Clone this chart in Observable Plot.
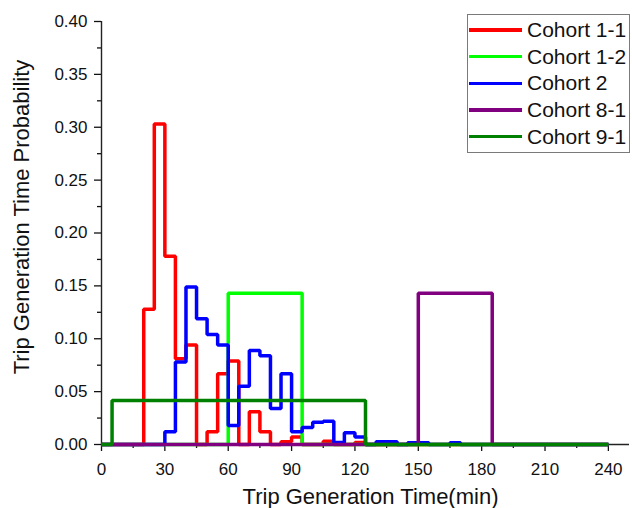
<!DOCTYPE html>
<html>
<head>
<meta charset="utf-8">
<script src="https://cdn.jsdelivr.net/npm/d3@7"></script>
<script src="https://cdn.jsdelivr.net/npm/@observablehq/plot@0.6"></script>
<style>
  body { margin: 0; background: #fff; }
  #wrap { position: relative; width: 632px; height: 508px; overflow: hidden;
          font-family: "Liberation Sans", Arial, sans-serif; background: #fff; }
  #wrap svg { position: absolute; left: 0; top: 0; }
  #legend { position: absolute; left: 467px; top: 14px; width: 163px; height: 139px;
            border: 1.5px solid #7a7a7a; box-sizing: border-box; background: #fff; }
  .item { position: absolute; height: 26px; display: flex; align-items: center; }
  .sw { width: 53px; height: 3.5px; margin-right: 5px; }
  .lab { font-size: 21px; color: #111; white-space: nowrap; }
</style>
</head>
<body>
<div id="wrap"></div>
<script>
// ---- Data (5-minute bins, value holds from t until the next t) ----
const seriesNames  = ["Cohort 1-1", "Cohort 1-2", "Cohort 2", "Cohort 8-1", "Cohort 9-1"];
const seriesColors = ["#ff0000", "#00ff00", "#0000ff", "#800080", "#008000"];

const cohort11T = [0, 20, 25, 30, 35, 40, 45, 50, 55, 60, 65, 70, 75, 80, 85, 90, 95, 105, 110, 120, 125, 240];
const cohort11V = [0, 0.128, 0.303, 0.178, 0.081, 0.094, 0, 0.012, 0.067, 0.079, 0, 0.031, 0.012, 0, 0.0025, 0.007, 0, 0.003, 0, 0.002, 0, 0];

const cohort12T = [0, 60, 95, 240];
const cohort12V = [0, 0.143, 0, 0];

const cohort2T = [0, 30, 35, 40, 45, 50, 55, 60, 65, 70, 75, 80, 85, 90, 95, 100, 105, 110, 115, 120, 125, 130, 140, 145, 155, 165, 170, 240];
const cohort2V = [0, 0.012, 0.078, 0.149, 0.119, 0.104, 0.094, 0.018, 0.055, 0.089, 0.084, 0.034, 0.067, 0.012, 0.016, 0.021, 0.022, 0.002, 0.011, 0.007, 0, 0.0025, 0, 0.0016, 0, 0.0016, 0, 0];

const cohort81T = [0, 150, 185, 240];
const cohort81V = [0, 0.143, 0, 0];

const cohort91T = [0, 5, 125, 240];
const cohort91V = [0, 0.0417, 0, 0];

const xMajorTicks = [0, 30, 60, 90, 120, 150, 180, 210, 240];
const xMinorTicks = [15, 45, 75, 105, 135, 165, 195, 225];
const yMajorTicks = [0, 0.05, 0.10, 0.15, 0.20, 0.25, 0.30, 0.35, 0.40];
const yMinorTicks = [0.025, 0.075, 0.125, 0.175, 0.225, 0.275, 0.325, 0.375];

const xTitle = "Trip Generation Time(min)";
const yTitle = "Trip Generation Time Probability";

// ---- Build table ----
const seriesT = [cohort11T, cohort12T, cohort2T, cohort81T, cohort91T];
const seriesV = [cohort11V, cohort12V, cohort2V, cohort81V, cohort91V];
const rows = [];
seriesNames.forEach((name, k) => {
  seriesT[k].forEach((t, i) => rows.push({series: name, t, v: seriesV[k][i]}));
});

const font = "'Liberation Sans', Arial, sans-serif";

const chart = Plot.plot({
  width: 632,
  height: 508,
  marginLeft: 101,
  marginRight: 3,
  marginTop: 21,
  marginBottom: 64,
  style: {fontFamily: font, fontSize: "17px", background: "transparent", color: "#111"},
  x: {domain: [0, 250]},
  y: {domain: [0, 0.4]},
  color: {domain: seriesNames, range: seriesColors},
  marks: [
    Plot.ruleY([0], {stroke: "#222", strokeWidth: 1.4}),
    Plot.ruleX([0], {stroke: "#222", strokeWidth: 1.4}),
    Plot.axisX({ticks: xMajorTicks, tickSize: 7, tickPadding: 11, tickFormat: d => String(d), label: null, strokeWidth: 1.3, fontSize: 17}),
    Plot.axisX({ticks: xMinorTicks, tickSize: 4, tickFormat: () => "", label: null, strokeWidth: 1.3}),
    Plot.axisY({ticks: yMajorTicks, tickSize: 7, tickPadding: 7, tickFormat: d3.format(".2f"), label: null, strokeWidth: 1.3, fontSize: 17}),
    Plot.axisY({ticks: yMinorTicks, tickSize: 4, tickFormat: () => "", label: null, strokeWidth: 1.3}),
    Plot.line(rows, {x: "t", y: "v", z: "series", stroke: "series", curve: "step-after",
                     strokeWidth: 3.5, strokeLinejoin: "miter", strokeLinecap: "butt"}),
    Plot.text([xTitle], {frameAnchor: "bottom", textAnchor: "middle", dx: 5, dy: 59, fontSize: 22, fill: "#111"}),
    Plot.text([yTitle], {frameAnchor: "left", textAnchor: "middle", rotate: -90, dx: -80, dy: -16, fontSize: 22, fill: "#111"})
  ]
});

const wrap = document.getElementById("wrap");
wrap.appendChild(chart);

// ---- Legend overlay ----
const legend = document.createElement("div");
legend.id = "legend";
wrap.appendChild(legend);
seriesNames.forEach((name, k) => {
  const item = document.createElement("div");
  item.className = "item";
  item.style.left = "469px";
  item.style.top = (30 + k * 26.67 - 13) + "px";
  const sw = document.createElement("div");
  sw.className = "sw";
  sw.style.background = seriesColors[k];
  const lab = document.createElement("span");
  lab.className = "lab";
  lab.textContent = name;
  item.appendChild(sw);
  item.appendChild(lab);
  wrap.appendChild(item);
});
</script>
</body>
</html>
